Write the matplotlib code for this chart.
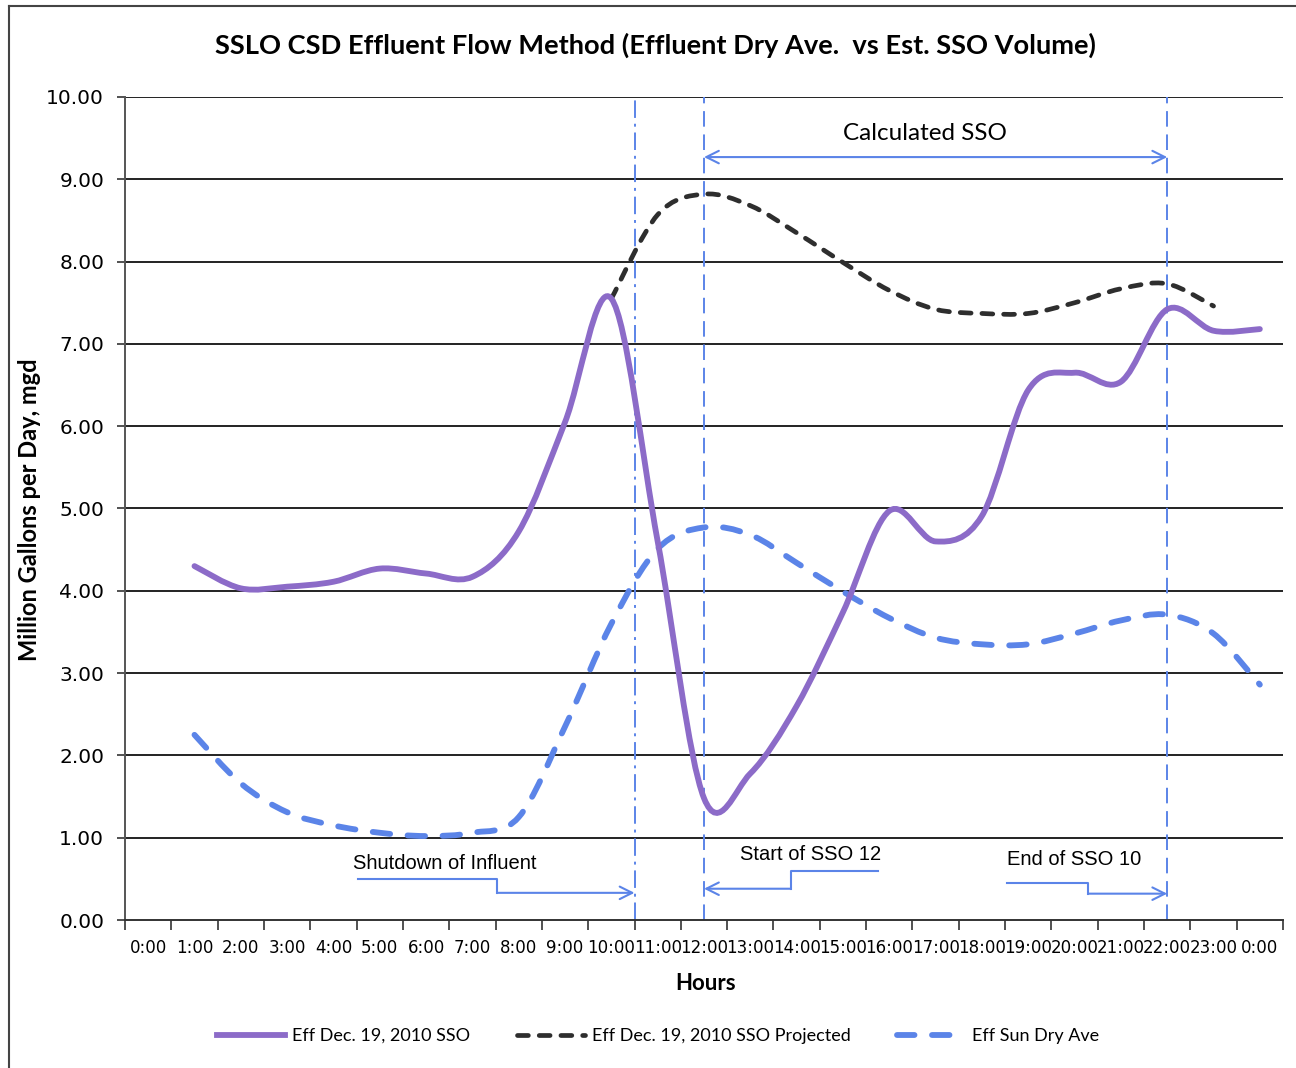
import matplotlib
matplotlib.use("Agg")
import matplotlib.pyplot as plt
from matplotlib.path import Path
from matplotlib.patches import PathPatch
from matplotlib.lines import Line2D

# ---- data ----
hour_labels = ["%d:00" % h for h in range(24)] + ["0:00"]

sso_hours = list(range(1, 25))
sso_vals = [4.30, 4.03, 4.05, 4.11, 4.27, 4.21, 4.17, 4.72, 6.05, 7.55, 4.60, 1.48,
            1.78, 2.60, 3.74, 4.97, 4.60, 4.91, 6.44, 6.65, 6.54, 7.42, 7.16, 7.18]

proj_hours = list(range(10, 24))
proj_vals = [7.55, 8.57, 8.82, 8.68, 8.35, 7.99, 7.65, 7.42, 7.37, 7.37, 7.50, 7.67, 7.73, 7.46]

dry_hours = list(range(1, 25))
dry_vals = [2.25, 1.66, 1.31, 1.15, 1.06, 1.02, 1.06, 1.25, 2.35, 3.60, 4.51, 4.77,
            4.68, 4.34, 3.99, 3.67, 3.43, 3.35, 3.35, 3.48, 3.64, 3.71, 3.48, 2.86]

shutdown_h = 10.5
sso_start_h = 12
sso_end_h = 22

PURPLE = "#8c6bc8"
BLUE = "#5b84e8"
DARK = "#2e2e2e"
CAL = ["Lato", "DejaVu Sans"]

DRY_DASH = (0, (3.0, 3.0))
PROJ_DASH = (0, (2.3, 2.3))


# excel style smoothed line -> cubic bezier path
def smooth_path(xs, ys):
    pts = list(zip(xs, ys))
    n = len(pts)
    verts = [pts[0]]
    codes = [Path.MOVETO]
    for i in range(n - 1):
        p0 = pts[i - 1] if i > 0 else pts[i]
        p1 = pts[i]
        p2 = pts[i + 1]
        p3 = pts[i + 2] if i + 2 < n else pts[i + 1]
        c1 = (p1[0] + (p2[0] - p0[0]) / 6, p1[1] + (p2[1] - p0[1]) / 6)
        c2 = (p2[0] - (p3[0] - p1[0]) / 6, p2[1] - (p3[1] - p1[1]) / 6)
        verts += [c1, c2, p2]
        codes += [Path.CURVE4] * 3
    return Path(verts, codes)


fig = plt.figure(figsize=(12.96, 10.68), dpi=100)
ax = fig.add_axes([125 / 1296, 1 - 920 / 1068, (1283 - 125) / 1296, (920 - 97) / 1068])

ax.set_xlim(-0.5, 24.5)
ax.set_ylim(0, 10)

# grid
for v in range(1, 11):
    ax.axhline(v, color="#222222", lw=1.4, zorder=1)

ax.spines["top"].set_visible(False)
ax.spines["right"].set_visible(False)
ax.spines["left"].set_color("#555555")
ax.spines["bottom"].set_color("#333333")
ax.spines["left"].set_linewidth(1.4)
ax.spines["bottom"].set_linewidth(1.4)

ax.set_yticks(range(0, 11))
ax.set_yticklabels(["%.2f" % v for v in range(0, 11)], fontsize=14.5, family="DejaVu Sans")
ax.tick_params(axis="y", direction="out", length=6, width=1.2, colors="#333333", labelcolor="black", pad=9)

ax.set_xticks([k - 0.5 for k in range(26)])
ax.set_xticklabels([])
ax.set_xticks(list(range(25)), minor=True)
ax.set_xticklabels(hour_labels, minor=True, fontsize=12, family="DejaVu Sans")
ax.tick_params(axis="x", which="major", direction="out", length=7, width=1.2, colors="#333333")
ax.tick_params(axis="x", which="minor", length=0, pad=14)

# series
ax.add_patch(PathPatch(smooth_path(dry_hours, dry_vals), fill=False, edgecolor=BLUE, lw=4.2,
                       linestyle=DRY_DASH, capstyle="round", zorder=3))
ax.add_patch(PathPatch(smooth_path(proj_hours, proj_vals), fill=False, edgecolor=DARK, lw=3.4,
                       linestyle=PROJ_DASH, capstyle="round", zorder=3))
ax.add_patch(PathPatch(smooth_path(sso_hours, sso_vals), fill=False, edgecolor=PURPLE, lw=4.2,
                       capstyle="round", zorder=4))

# vertical markers
ax.axvline(shutdown_h, color=BLUE, lw=1.4, linestyle=(0, (9, 3, 1.5, 3)), zorder=2)
ax.axvline(sso_start_h, color=BLUE, lw=1.4, linestyle=(0, (8, 4)), zorder=2)
ax.axvline(sso_end_h, color=BLUE, lw=1.4, linestyle=(0, (8, 4)), zorder=2)

arrow = dict(arrowstyle="->,head_length=0.9,head_width=0.45", color=BLUE, lw=1.5, shrinkA=0, shrinkB=0)

# calculated SSO span
ax.annotate("", xy=(sso_end_h, 9.27), xytext=(sso_start_h, 9.27),
            arrowprops=dict(arrowstyle="<->,head_length=0.9,head_width=0.45", color=BLUE, lw=1.5,
                            shrinkA=0, shrinkB=0))
ax.text(16.78, 9.56, "Calculated SSO", ha="center", va="center", fontsize=17.5, family=CAL)

# shutdown of influent
ax.text(6.41, 0.69, "Shutdown of Influent", ha="center", va="center", fontsize=14.5, family="Liberation Sans")
ax.plot([4.54, 7.54, 7.54], [0.50, 0.50, 0.33], color=BLUE, lw=1.5)
ax.annotate("", xy=(shutdown_h, 0.33), xytext=(7.54, 0.33), arrowprops=arrow)

# start of SSO 12
ax.text(14.3, 0.80, "Start of SSO 12", ha="center", va="center", fontsize=14.5, family="Liberation Sans")
ax.plot([15.75, 13.87, 13.87], [0.60, 0.60, 0.38], color=BLUE, lw=1.5)
ax.annotate("", xy=(sso_start_h, 0.38), xytext=(13.87, 0.38), arrowprops=arrow)

# end of SSO 10
ax.text(19.98, 0.73, "End of SSO 10", ha="center", va="center", fontsize=14.5, family="Liberation Sans")
ax.plot([18.55, 20.3, 20.3], [0.45, 0.45, 0.32], color=BLUE, lw=1.5)
ax.annotate("", xy=(sso_end_h, 0.32), xytext=(20.3, 0.32), arrowprops=arrow)

# titles
fig.text(655 / 1296, 1 - 45 / 1068, "SSLO CSD Effluent Flow Method (Effluent Dry Ave.  vs Est. SSO Volume)",
         ha="center", va="center", fontsize=19.6, fontweight="bold", family=CAL)
fig.text(30 / 1296, 1 - 510 / 1068, "Million Gallons per Day, mgd", rotation=90,
         ha="center", va="center", fontsize=17, fontweight="bold", family=CAL)
fig.text(706 / 1296, 1 - 983 / 1068, "Hours", ha="center", va="center", fontsize=16,
         fontweight="bold", family=CAL)

# legend
handles = [Line2D([], [], color=PURPLE, lw=4.2),
           Line2D([], [], color=DARK, lw=3.4, linestyle=PROJ_DASH, dash_capstyle="round"),
           Line2D([], [], color=BLUE, lw=4.2, linestyle=DRY_DASH, dash_capstyle="round")]
names = ["Eff Dec. 19, 2010 SSO", "Eff Dec. 19, 2010 SSO Projected", "Eff Sun Dry Ave"]
fig.legend(handles, names, loc="center", bbox_to_anchor=(658 / 1296, 1 - 1036 / 1068), ncol=3,
           frameon=False, prop={"family": CAL, "size": 13}, handlelength=3.8, columnspacing=2.6,
           handletextpad=0.35)

# chart area border (top / left edges visible in scan)
fig.add_artist(Line2D([9 / 1296, 1], [1 - 6 / 1068, 1 - 6 / 1068], color="#444444", lw=1.5))
fig.add_artist(Line2D([9 / 1296, 9 / 1296], [0, 1 - 6 / 1068], color="#444444", lw=1.5))

fig.savefig("out.png", dpi=100)
